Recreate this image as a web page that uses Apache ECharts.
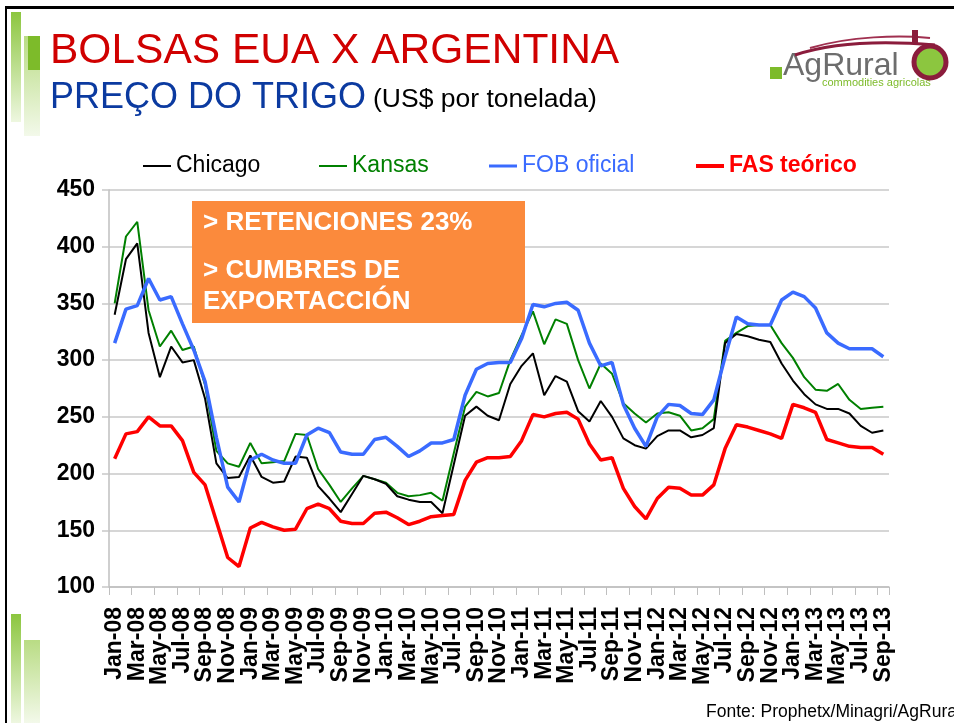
<!DOCTYPE html>
<html>
<head>
<meta charset="utf-8">
<script src="https://cdn.jsdelivr.net/npm/echarts@6/dist/echarts.min.js"></script>
<style>
  html, body { margin: 0; padding: 0; background: #fff; overflow: hidden; }
  #chart { width: 954px; height: 723px; }
</style>
</head>
<body>
<div id="chart"></div>
<script>
// Monthly wheat prices, US$ per tonne, Jan-08 .. Sep-13
const months = [
  'Jan-08','Feb-08','Mar-08','Apr-08','May-08','Jun-08','Jul-08','Aug-08','Sep-08','Oct-08','Nov-08','Dec-08',
  'Jan-09','Feb-09','Mar-09','Apr-09','May-09','Jun-09','Jul-09','Aug-09','Sep-09','Oct-09','Nov-09','Dec-09',
  'Jan-10','Feb-10','Mar-10','Apr-10','May-10','Jun-10','Jul-10','Aug-10','Sep-10','Oct-10','Nov-10','Dec-10',
  'Jan-11','Feb-11','Mar-11','Apr-11','May-11','Jun-11','Jul-11','Aug-11','Sep-11','Oct-11','Nov-11','Dec-11',
  'Jan-12','Feb-12','Mar-12','Apr-12','May-12','Jun-12','Jul-12','Aug-12','Sep-12','Oct-12','Nov-12','Dec-12',
  'Jan-13','Feb-13','Mar-13','Apr-13','May-13','Jun-13','Jul-13','Aug-13','Sep-13'
];

const chicago = [
  340,389,403,324,285,312,298,300,266,209,196,197,
  216,197,192,193,215,214,189,178,166,182,198,195,
  191,180,177,175,175,165,208,251,259,251,247,279,
  295,306,269,286,281,255,246,264,250,231,225,222,
  233,238,238,232,234,240,315,323,321,318,316,297,
  282,270,261,257,257,253,242,236,238
];

const kansas = [
  350,409,422,344,312,326,309,312,278,220,209,206,
  227,209,210,211,235,234,204,190,175,187,198,195,
  192,183,180,181,183,176,218,259,272,268,271,300,
  322,343,314,336,332,300,275,297,288,262,253,245,
  253,254,251,238,240,248,317,324,330,331,331,315,
  302,285,274,273,279,265,257,258,259
];

const fobOficial = [
  315,345,348,372,353,356,332,309,281,232,188,175,
  212,217,212,209,209,234,240,236,219,217,217,230,
  232,224,215,220,227,227,230,269,292,297,298,298,
  319,349,347,350,351,344,315,295,298,261,240,224,
  250,261,260,253,252,265,303,338,332,331,331,353,
  360,356,346,324,315,310,310,310,303
];

const fasTeorico = [
  213,235,237,250,242,242,229,201,190,158,126,118,
  152,157,153,150,151,169,173,169,158,156,156,165,
  166,161,155,158,162,163,164,194,210,214,214,215,
  229,252,250,253,254,248,226,212,214,187,171,160,
  178,188,187,181,181,190,222,243,241,238,235,231,
  261,258,254,230,227,224,223,223,217
];

const yTicks = { min: 100, max: 450, step: 50 };

const FONT = "'Liberation Sans', Arial, sans-serif";

const chart = echarts.init(document.getElementById('chart'), null, { renderer: 'canvas' });

function legendItem(name, left, iconColor, iconH, bold, color) {
  return {
    left: left,
    top: 149,
    icon: 'rect',
    itemWidth: 28,
    itemHeight: iconH,
    itemGap: 0,
    selectedMode: false,
    data: [{ name: name, itemStyle: { color: iconColor } }],
    textStyle: {
      fontFamily: FONT,
      fontSize: 23,
      fontWeight: bold ? 'bold' : 'normal',
      color: color,
      lineHeight: 24,
      padding: [0, 0, 0, 0]
    }
  };
}

const monthLabelStyle = {
  rotate: 90,
  margin: 20,
  fontFamily: FONT,
  fontSize: 23,
  fontWeight: 'bold',
  color: '#000000'
};

const lastIdx = months.length - 1;

const option = {
  animation: false,
  backgroundColor: '#ffffff',
  grid: { left: 109, top: 190, width: 780, height: 397, containLabel: false },
  legend: [
    legendItem('Chicago', 138, '#000000', 2, false, '#000000'),
    legendItem('Kansas', 314, '#008000', 2, false, '#008000'),
    legendItem('FOB oficial', 484, '#3a6bff', 3, false, '#3a6bff'),
    legendItem('FAS teórico', 691, '#ff0000', 4, true, '#ff0000')
  ],
  xAxis: [
    {
      // main month axis: every second month
      type: 'category',
      data: months,
      boundaryGap: true,
      axisLine: { show: true, lineStyle: { color: '#bfbfbf', width: 1.5 } },
      axisTick: { show: true, interval: 1, length: 8, lineStyle: { color: '#bfbfbf', width: 1 } },
      axisLabel: Object.assign({ interval: 1 }, monthLabelStyle),
      splitLine: { show: false }
    },
    {
      // first and last month labels
      type: 'category',
      data: months,
      boundaryGap: true,
      position: 'bottom',
      gridIndex: 0,
      axisLine: { show: false },
      axisTick: { show: false },
      splitLine: { show: false },
      axisLabel: Object.assign({
        interval: (i) => i === 0 || i === lastIdx,
        showMinLabel: true,
        showMaxLabel: true
      }, monthLabelStyle)
    }
  ],
  yAxis: {
    type: 'value',
    min: yTicks.min,
    max: yTicks.max,
    interval: yTicks.step,
    axisLine: { show: true, lineStyle: { color: '#bfbfbf', width: 1.5 } },
    axisTick: { show: true, length: 7, lineStyle: { color: '#c8c8c8', width: 1.5 } },
    axisLabel: {
      margin: 14,
      fontFamily: FONT,
      fontSize: 23,
      fontWeight: 'bold',
      color: '#000000'
    },
    splitLine: { show: true, lineStyle: { color: '#c8c8c8', width: 1.5 } }
  },
  series: [
    { name: 'Chicago', type: 'line', xAxisIndex: 0, data: chicago, symbol: 'none', lineStyle: { color: '#000000', width: 2 }, itemStyle: { color: '#000000' }, z: 3 },
    { name: 'Kansas', type: 'line', xAxisIndex: 0, data: kansas, symbol: 'none', lineStyle: { color: '#008000', width: 2 }, itemStyle: { color: '#008000' }, z: 2 },
    { name: 'FOB oficial', type: 'line', xAxisIndex: 0, data: fobOficial, symbol: 'none', lineStyle: { color: '#3a6bff', width: 3.5 }, itemStyle: { color: '#3a6bff' }, z: 4 },
    { name: 'FAS teórico', type: 'line', xAxisIndex: 0, data: fasTeorico, symbol: 'none', lineStyle: { color: '#ff0000', width: 3.5 }, itemStyle: { color: '#ff0000' }, z: 5 }
  ],
  graphic: [
    // slide frame
    { type: 'rect', shape: { x: 5, y: 6, width: 949, height: 3 }, style: { fill: '#000000' }, z: 10 },
    { type: 'rect', shape: { x: 5, y: 6, width: 2, height: 717 }, style: { fill: '#000000' }, z: 10 },
    // green accent bars, top-left
    { type: 'rect', shape: { x: 11, y: 12, width: 10, height: 110 },
      style: { fill: new echarts.graphic.LinearGradient(0, 0, 0, 1, [
        { offset: 0, color: '#8cc63f' }, { offset: 1, color: '#eef7e0' }]) }, z: 10 },
    { type: 'rect', shape: { x: 24, y: 36, width: 16, height: 100 },
      style: { fill: new echarts.graphic.LinearGradient(0, 0, 0, 1, [
        { offset: 0, color: '#b9dc84' }, { offset: 1, color: '#f3f9ea' }]) }, z: 10 },
    { type: 'rect', shape: { x: 28, y: 36, width: 12, height: 34 }, style: { fill: '#7dbb2a' }, z: 11 },
    // green accent bars, bottom-left
    { type: 'rect', shape: { x: 11, y: 614, width: 10, height: 109 },
      style: { fill: new echarts.graphic.LinearGradient(0, 0, 0, 1, [
        { offset: 0, color: '#8cc63f' }, { offset: 1, color: '#eef7e0' }]) }, z: 10 },
    { type: 'rect', shape: { x: 24, y: 640, width: 16, height: 83 },
      style: { fill: new echarts.graphic.LinearGradient(0, 0, 0, 1, [
        { offset: 0, color: '#b9dc84' }, { offset: 1, color: '#f3f9ea' }]) }, z: 10 },
    // titles
    { type: 'text', left: 50, top: 30,
      style: { text: 'BOLSAS EUA X ARGENTINA', font: `normal 42.5px ${FONT}`, fill: '#d00000' }, z: 10 },
    { type: 'text', left: 50, top: 80,
      style: { text: 'PREÇO DO TRIGO', font: `normal 36px ${FONT}`, fill: '#0b3aa0' }, z: 10 },
    { type: 'text', left: 373, top: 86,
      style: { text: '(US$ por tonelada)', font: `normal 26.5px ${FONT}`, fill: '#000000' }, z: 10 },
    // AgRural logo
    { type: 'rect', shape: { x: 770, y: 67, width: 12, height: 12 }, style: { fill: '#7dbb2a' }, z: 10 },
    { type: 'text', left: 783, top: 50,
      style: { text: 'AgRural', font: `normal 32px ${FONT}`, fill: '#6d6d6d' }, z: 10 },
    { type: 'text', left: 822, top: 77,
      style: { text: 'commodities agricolas', font: `normal 11px ${FONT}`, fill: '#7dbb2a' }, z: 10 },
    { type: 'bezierCurve', shape: { x1: 795, y1: 55, x2: 935, y2: 45, cpx1: 840, cpy1: 40, cpx2: 900, cpy2: 42 },
      style: { stroke: '#8b1c3c', lineWidth: 3, fill: null }, z: 10 },
    { type: 'bezierCurve', shape: { x1: 810, y1: 48, x2: 930, y2: 38, cpx1: 850, cpy1: 36, cpx2: 900, cpy2: 35 },
      style: { stroke: '#a03050', lineWidth: 2, fill: null }, z: 10 },
    { type: 'circle', shape: { cx: 930, cy: 62, r: 16 }, style: { fill: '#8cc63f', stroke: '#8b1c3c', lineWidth: 5 }, z: 10 },
    { type: 'rect', shape: { x: 912, y: 30, width: 6, height: 14 }, style: { fill: '#8b1c3c' }, z: 10 },
    // annotation box
    { type: 'rect', shape: { x: 192, y: 201, width: 333, height: 122 }, style: { fill: '#fb8a3c' }, z: 20 },
    { type: 'text', left: 203, top: 210,
      style: { text: '> RETENCIONES 23%', font: `bold 26px ${FONT}`, fill: '#ffffff' }, z: 21 },
    { type: 'text', left: 203, top: 258,
      style: { text: '> CUMBRES DE', font: `bold 26px ${FONT}`, fill: '#ffffff' }, z: 21 },
    { type: 'text', left: 203, top: 289,
      style: { text: 'EXPORTACCIÓN', font: `bold 26px ${FONT}`, fill: '#ffffff' }, z: 21 },
    // source note
    { type: 'text', x: 706, y: 703,
      style: { text: 'Fonte: Prophetx/Minagri/AgRural', font: `normal 17.5px ${FONT}`, fill: '#000000' }, z: 10 }
  ]
};

chart.setOption(option);
</script>
</body>
</html>
